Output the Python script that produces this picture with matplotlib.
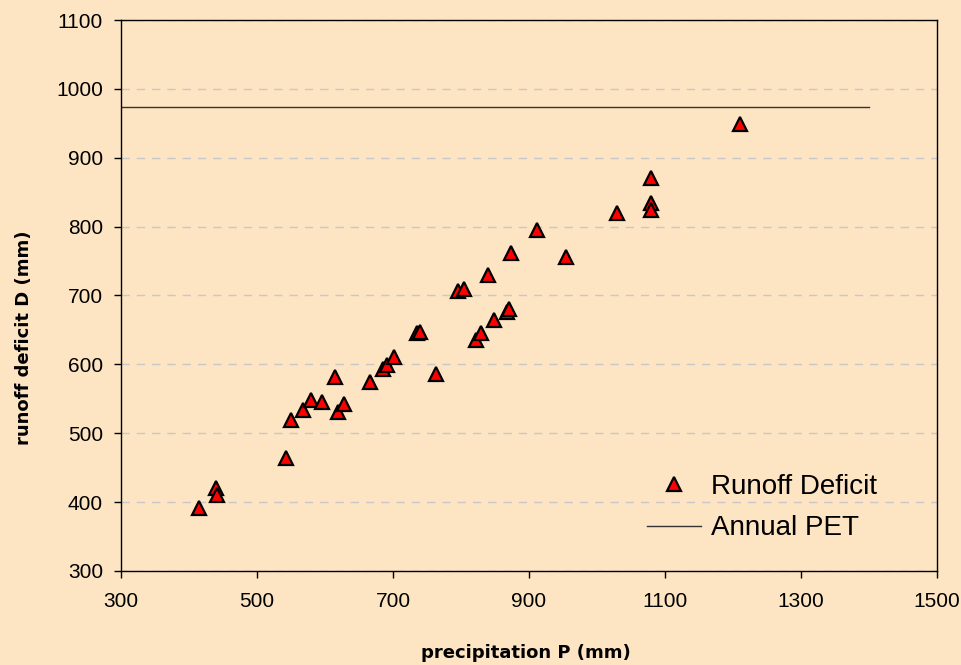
import numpy as np
import matplotlib
matplotlib.use("Agg")
import matplotlib.pyplot as plt

plt.rcParams['font.family'] = ['Liberation Sans', 'DejaVu Sans']

# precipitation P (mm) and runoff deficit D (mm)
precip = [415, 440, 441, 542, 550, 568, 580, 595, 615, 619, 628, 666,
          686, 691, 702, 735, 740, 763, 796, 805, 822, 829, 840, 849,
          868, 870, 873, 912, 955, 1030, 1080, 1080, 1080, 1210]
deficit = [392, 420, 411, 464, 519, 534, 548, 546, 581, 531, 543, 575,
           593, 599, 610, 645, 647, 586, 706, 709, 635, 645, 730, 665,
           676, 681, 761, 795, 756, 820, 870, 835, 824, 949]

pet_x = [300, 1400]
pet_y = [973, 973]

bg = '#FDE4C3'

fig = plt.figure(figsize=(9.62, 6.65), dpi=100, facecolor=bg)
ax = fig.add_axes([0.1258, 0.1414, 0.8482, 0.8285])
ax.set_facecolor(bg)

ax.plot(pet_x, pet_y, color='#333333', lw=1.0, label='Annual PET', zorder=2)
ax.plot(precip, deficit, linestyle='none', marker='^', markersize=10,
        markerfacecolor='#FF0000', markeredgecolor='black', markeredgewidth=1.6,
        label='Runoff Deficit', zorder=3)

ax.set_xlim(300, 1500)
ax.set_ylim(300, 1100)
ax.set_xticks(np.arange(300, 1501, 200))
ax.set_yticks(np.arange(300, 1101, 100))
ax.yaxis.grid(True, linestyle=(0, (6, 5)), color='#C8C8C8', lw=1.0)
ax.set_axisbelow(True)
ax.tick_params(direction='out', length=5, width=1, labelsize=15, colors='black')
ax.tick_params(axis='x', pad=10)
ax.tick_params(axis='y', pad=8)
for s in ax.spines.values():
    s.set_color('black')
    s.set_linewidth(1.0)

ax.set_xlabel('precipitation P (mm)', fontsize=13, fontweight='bold',
              family='DejaVu Sans')
ax.set_ylabel('runoff deficit D (mm)', fontsize=13, fontweight='bold',
              family='DejaVu Sans')
ax.xaxis.set_label_coords(0.496, -0.132)
ax.yaxis.set_label_coords(-0.108, 0.423)

h, l = ax.get_legend_handles_labels()
ax.legend(h[::-1], l[::-1], loc='center left', bbox_to_anchor=(0.631, 0.115),
          borderaxespad=0, frameon=False, fontsize=20, handlelength=1.95,
          handletextpad=0.36, labelspacing=0.55)

fig.savefig('out.png', dpi=100, facecolor=bg)
